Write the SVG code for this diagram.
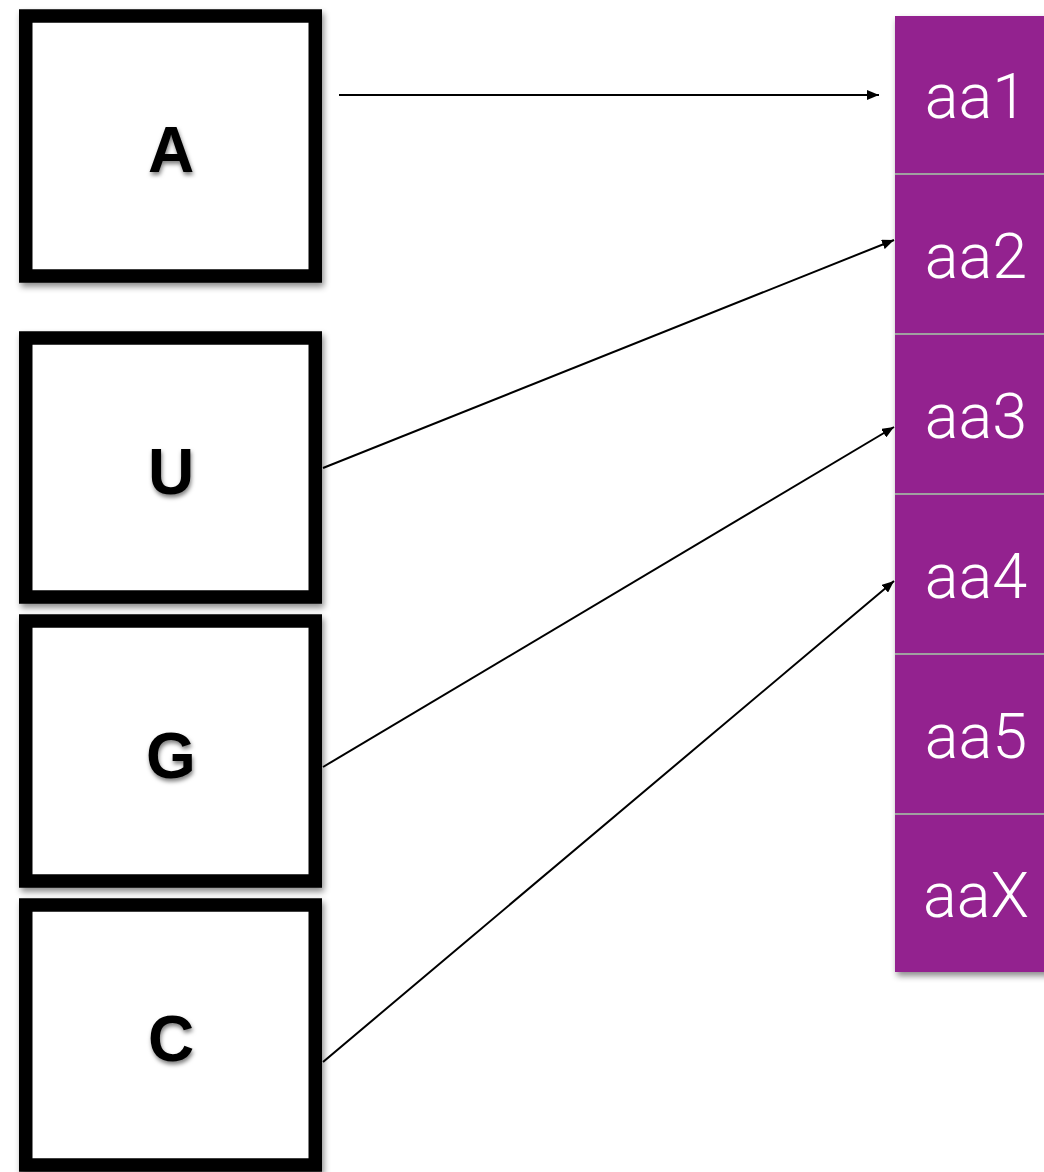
<svg xmlns="http://www.w3.org/2000/svg" width="1044" height="1172" viewBox="0 0 1044 1172">
  <style>
    .box { fill: #ffffff; stroke: #000000; stroke-width: 13.5; }
    .letter { font-family: "Liberation Sans", Arial, sans-serif; font-weight: bold; font-size: 64px; fill: #000000; text-anchor: middle; }
    .cell { fill: #93228f; }
    .sep { stroke: #a0a0a0; stroke-width: 2; }
    .cell-label { font-family: Roboto, "Liberation Sans", sans-serif; font-weight: 300; font-size: 63px; fill: #ffffff; text-anchor: middle; }
    .conn { stroke: #000000; stroke-width: 2; fill: none; marker-end: url(#arrow); }
  </style>
  <defs>
    <filter id="shadow" x="-10%" y="-10%" width="125%" height="125%">
      <feDropShadow dx="2" dy="4" stdDeviation="3" flood-color="#000000" flood-opacity="0.45"/>
    </filter>
    <filter id="textShadow" x="-20%" y="-20%" width="150%" height="150%">
      <feDropShadow dx="1" dy="3" stdDeviation="2" flood-color="#000000" flood-opacity="0.5"/>
    </filter>
    <marker id="arrow" viewBox="0 0 12 10" refX="12" refY="5" markerWidth="12" markerHeight="10" markerUnits="userSpaceOnUse" orient="auto">
      <path d="M0,0 L12,5 L0,10 Z" fill="#000000"/>
    </marker>
  </defs>
  <rect width="1044" height="1172" fill="#ffffff"/>

  <!-- Left column of boxes -->
  <g id="node-A">
    <rect class="box" x="25.75" y="16" width="289.5" height="260" filter="url(#shadow)"/>
    <text class="letter" x="171" y="172" filter="url(#textShadow)">A</text>
  </g>
  <g id="node-U">
    <rect class="box" x="25.75" y="338" width="289.5" height="259" filter="url(#shadow)"/>
    <text class="letter" x="171" y="494" filter="url(#textShadow)">U</text>
  </g>
  <g id="node-G">
    <rect class="box" x="25.75" y="621" width="289.5" height="260" filter="url(#shadow)"/>
    <text class="letter" x="171" y="778" filter="url(#textShadow)">G</text>
  </g>
  <g id="node-C">
    <rect class="box" x="25.75" y="905" width="289.5" height="260" filter="url(#shadow)"/>
    <text class="letter" x="171" y="1061" filter="url(#textShadow)">C</text>
  </g>

  <!-- Right column of purple cells -->
  <g id="cells" filter="url(#shadow)">
    <rect class="cell" x="895" y="16" width="160" height="956"/>
  </g>
  <g id="separators">
    <line class="sep" x1="895" y1="174" x2="1044" y2="174"/>
    <line class="sep" x1="895" y1="334" x2="1044" y2="334"/>
    <line class="sep" x1="895" y1="494" x2="1044" y2="494"/>
    <line class="sep" x1="895" y1="654" x2="1044" y2="654"/>
    <line class="sep" x1="895" y1="814" x2="1044" y2="814"/>
  </g>
  <g id="node-aa1"><text class="cell-label" x="976" y="118">aa1</text></g>
  <g id="node-aa2"><text class="cell-label" x="976" y="278">aa2</text></g>
  <g id="node-aa3"><text class="cell-label" x="976" y="438">aa3</text></g>
  <g id="node-aa4"><text class="cell-label" x="976" y="598">aa4</text></g>
  <g id="node-aa5"><text class="cell-label" x="976" y="758">aa5</text></g>
  <g id="node-aaX"><text class="cell-label" x="976" y="917">aaX</text></g>

  <!-- Connectors -->
  <g id="connectors">
    <line class="conn" x1="339" y1="95" x2="879" y2="95"/>
    <line class="conn" x1="323" y1="468" x2="894" y2="240"/>
    <line class="conn" x1="323" y1="767" x2="894" y2="427"/>
    <line class="conn" x1="323" y1="1062" x2="894" y2="581"/>
  </g>
</svg>
